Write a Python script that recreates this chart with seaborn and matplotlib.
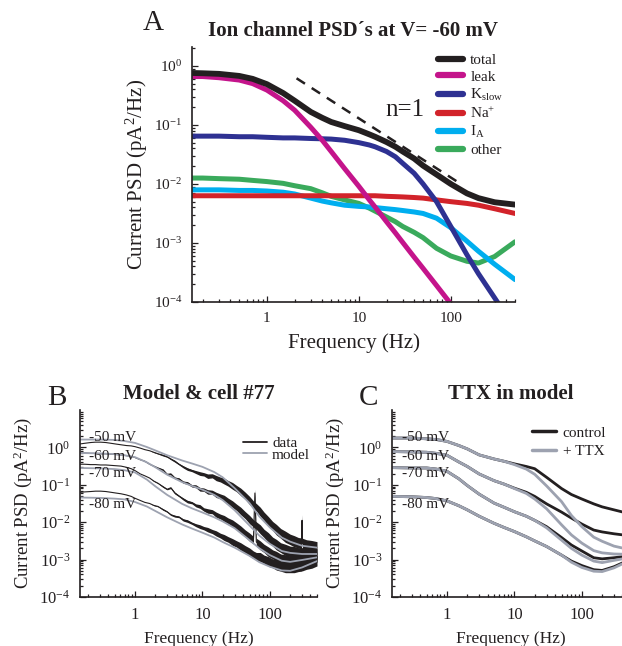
import numpy as np
import matplotlib
matplotlib.use("Agg")
import matplotlib.pyplot as plt
import matplotlib.ticker as mticker
from matplotlib.lines import Line2D
import seaborn as sns

# Panel A: ion channel PSDs at V=-60 mV, values are log10(pA^2/Hz)
freq_a = [0.153, 0.2, 0.3, 0.5, 0.7, 1, 1.5, 2, 3, 4, 5, 7, 10, 13, 15, 20, 25, 30, 40, 50, 70, 100, 150, 200,
          300, 500]
total_a = [-0.12, -0.125, -0.135, -0.17, -0.22, -0.31, -0.46, -0.59, -0.78, -0.88, -0.95, -1.02, -1.09, -1.16,
           -1.20, -1.29, -1.37, -1.45, -1.57, -1.69, -1.84, -2.00, -2.16, -2.24, -2.31, -2.35]
leak_a = [-0.18, -0.18, -0.20, -0.24, -0.30, -0.41, -0.59, -0.75, -1.04, -1.26, -1.45, -1.74, -2.04, -2.27,
          -2.39, -2.64, -2.83, -2.99, -3.24, -3.43, -3.72, -4.03, -4.38, -4.63, -4.98, -5.42]
kslow_a = [-1.19, -1.19, -1.19, -1.20, -1.20, -1.21, -1.22, -1.22, -1.23, -1.235, -1.24, -1.26, -1.30, -1.34,
           -1.37, -1.45, -1.54, -1.65, -1.82, -2.00, -2.30, -2.72, -3.20, -3.52, -3.93, -4.45]
na_a = [-2.20, -2.20, -2.20, -2.20, -2.20, -2.20, -2.20, -2.20, -2.20, -2.20, -2.20, -2.20, -2.20, -2.20,
        -2.20, -2.21, -2.215, -2.22, -2.23, -2.24, -2.27, -2.30, -2.33, -2.36, -2.42, -2.50]
ia_a = [-2.10, -2.10, -2.10, -2.11, -2.11, -2.12, -2.14, -2.17, -2.24, -2.29, -2.32, -2.36, -2.38, -2.39,
        -2.40, -2.42, -2.435, -2.45, -2.475, -2.50, -2.58, -2.74, -2.97, -3.14, -3.36, -3.62]
other_a = [-1.90, -1.90, -1.91, -1.92, -1.94, -1.96, -1.99, -2.03, -2.08, -2.15, -2.21, -2.27, -2.33, -2.41,
           -2.46, -2.56, -2.64, -2.72, -2.82, -2.91, -3.09, -3.22, -3.31, -3.34, -3.23, -2.98]
slope_f = [2.1, 120]
slope_p = [-0.21, -1.97]

# Panels B, C: model curves at -50/-60/-70/-80 mV
freq_m = [0.15, 0.3, 0.5, 0.7, 1, 1.5, 2, 3, 5, 7, 10, 15, 20, 30, 50, 70, 100, 150, 200, 300, 500]
b_model = {
    "-50": [0.21, 0.21, 0.20, 0.17, 0.12, 0.01, -0.08, -0.21, -0.35, -0.43, -0.52, -0.66, -0.80, -1.09, -1.49,
            -1.85, -2.14, -2.41, -2.52, -2.63, -2.68],
    "-60": [-0.15, -0.16, -0.18, -0.21, -0.26, -0.40, -0.53, -0.73, -0.93, -1.03, -1.13, -1.27, -1.41, -1.68,
            -2.09, -2.36, -2.58, -2.77, -2.82, -2.85, -2.85],
    "-70": [-0.55, -0.56, -0.58, -0.61, -0.67, -0.86, -1.04, -1.27, -1.51, -1.63, -1.74, -1.87, -1.98, -2.16,
            -2.48, -2.70, -2.88, -3.03, -3.06, -3.01, -2.94],
    "-80": [-1.34, -1.35, -1.37, -1.39, -1.46, -1.58, -1.70, -1.87, -2.06, -2.17, -2.28, -2.41, -2.53, -2.68,
            -2.90, -3.07, -3.19, -3.29, -3.30, -3.21, -3.04],
}
c_control = {
    "-50": [0.25, 0.25, 0.23, 0.21, 0.16, 0.05, -0.04, -0.20, -0.31, -0.37, -0.44, -0.51, -0.57, -0.80, -1.10,
            -1.26, -1.38, -1.51, -1.59, -1.67, -1.77],
    "-60": [-0.11, -0.12, -0.13, -0.16, -0.21, -0.39, -0.51, -0.71, -0.89, -0.98, -1.09, -1.20, -1.31, -1.51,
            -1.73, -1.89, -2.05, -2.21, -2.26, -2.31, -2.36],
    "-70": [-0.54, -0.55, -0.55, -0.58, -0.64, -0.84, -1.02, -1.25, -1.49, -1.60, -1.72, -1.84, -1.95, -2.12,
            -2.41, -2.61, -2.77, -2.95, -2.98, -2.95, -2.90],
    "-80": [-1.31, -1.32, -1.34, -1.37, -1.43, -1.56, -1.67, -1.84, -2.03, -2.14, -2.25, -2.39, -2.50, -2.65,
            -2.88, -3.04, -3.16, -3.27, -3.29, -3.19, -3.01],
}
c_ttx = {
    "-50": [0.25, 0.25, 0.23, 0.21, 0.16, 0.05, -0.04, -0.20, -0.31, -0.37, -0.46, -0.58, -0.72, -1.03, -1.45,
            -1.82, -2.12, -2.40, -2.51, -2.64, -2.73],
    "-60": [-0.11, -0.12, -0.13, -0.16, -0.21, -0.39, -0.51, -0.71, -0.89, -0.98, -1.10, -1.23, -1.38, -1.64,
            -2.07, -2.34, -2.56, -2.76, -2.82, -2.85, -2.86],
    "-70": [-0.54, -0.55, -0.55, -0.58, -0.64, -0.84, -1.02, -1.25, -1.49, -1.60, -1.72, -1.84, -1.95, -2.15,
            -2.48, -2.70, -2.88, -3.04, -3.08, -3.02, -2.95],
    "-80": [-1.31, -1.32, -1.34, -1.37, -1.43, -1.56, -1.67, -1.84, -2.03, -2.14, -2.25, -2.39, -2.50, -2.65,
            -2.88, -3.07, -3.21, -3.31, -3.32, -3.22, -3.03],
}

# Panel B: recorded data (cell #77), log10 values and noise half-width
freq_d = [0.15, 0.18, 0.22, 0.26, 0.31, 0.37, 0.44, 0.52, 0.62, 0.74, 0.88, 1.0, 1.2, 1.4, 1.65, 1.9, 2.2, 2.6,
          3.0, 3.4, 3.9, 4.5, 5.2, 6.0, 7.0, 8.0, 9.2, 10.5, 12, 14, 16, 18.5, 21, 24, 28, 32, 37, 43, 50, 57,
          60, 63, 72, 82, 95, 110, 125, 145, 170, 200, 230, 265, 295, 300, 305, 350, 420, 500]
b_data = {
    "-50": [0.09, 0.11, 0.13, 0.14, 0.14, 0.13, 0.11, 0.09, 0.07, 0.05, 0.04, 0.02, -0.02, -0.06, -0.09, -0.13,
            -0.17, -0.21, -0.25, -0.31, -0.37, -0.45, -0.52, -0.58, -0.62, -0.66, -0.70, -0.72, -0.77, -0.76,
            -0.82, -0.86, -0.90, -0.96, -1.03, -1.10, -1.19, -1.29, -1.42, -1.53, -1.57, -1.60, -1.72, -1.84,
            -1.98, -2.10, -2.20, -2.30, -2.39, -2.46, -2.51, -2.55, -2.57, -1.95, -2.58, -2.61, -2.64, -2.66],
    "-60": [-0.15, -0.15, -0.16, -0.16, -0.17, -0.17, -0.18, -0.19, -0.20, -0.22, -0.24, -0.27, -0.33, -0.37,
            -0.45, -0.50, -0.55, -0.60, -0.72, -0.71, -0.82, -0.84, -0.93, -0.95, -1.03, -1.04, -1.12, -1.13,
            -1.19, -1.20, -1.27, -1.31, -1.36, -1.43, -1.52, -1.60, -1.70, -1.81, -1.93, -2.03, -2.06, -2.09,
            -2.19, -2.30, -2.41, -2.52, -2.60, -2.68, -2.74, -2.78, -2.80, -2.82, -2.83, -2.83, -2.83, -2.84,
            -2.85, -2.85],
    "-70": [-0.45, -0.45, -0.46, -0.46, -0.47, -0.47, -0.48, -0.49, -0.50, -0.53, -0.57, -0.62, -0.71, -0.76,
            -0.82, -0.90, -0.96, -1.05, -1.12, -1.08, -1.22, -1.30, -1.38, -1.45, -1.48, -1.55, -1.58, -1.66,
            -1.70, -1.72, -1.80, -1.85, -1.90, -1.96, -2.03, -2.10, -2.20, -2.30, -2.40, -2.48, -1.22, -2.53,
            -2.62, -2.70, -2.79, -2.86, -2.92, -2.98, -3.02, -3.04, -3.04, -3.03, -3.02, -3.02, -3.01, -2.99,
            -2.96, -2.93],
    "-80": [-1.20, -1.19, -1.18, -1.17, -1.17, -1.18, -1.20, -1.22, -1.24, -1.27, -1.31, -1.36, -1.42, -1.47,
            -1.50, -1.55, -1.58, -1.66, -1.72, -1.80, -1.84, -1.86, -1.94, -1.97, -2.03, -2.08, -2.12, -2.16,
            -2.20, -2.25, -2.30, -2.36, -2.41, -2.46, -2.53, -2.58, -2.65, -2.72, -2.80, -2.87, -2.89, -2.91,
            -2.93, -2.99, -3.05, -3.10, -3.14, -3.18, -3.20, -3.21, -3.20, -3.18, -3.16, -3.15, -3.15, -3.12,
            -3.08, -3.03],
}
b_noise = [0, 0, 0, 0, 0, 0, 0, 0, 0, 0, 0, 0, 0, 0, 0, 0.01, 0.01, 0.02, 0.015, 0.02, 0.025, 0.02, 0.03, 0.035,
           0.03, 0.04, 0.05, 0.045, 0.06, 0.055, 0.07, 0.065, 0.08, 0.075, 0.09, 0.085, 0.10, 0.095, 0.11, 0.10,
           0.10, 0.10, 0.12, 0.11, 0.13, 0.12, 0.14, 0.13, 0.15, 0.14, 0.15, 0.14, 0.15, 0.15, 0.15, 0.14, 0.15,
           0.14]

levels = ["-50", "-60", "-70", "-80"]
level_y = {"-50": 0.26, "-60": -0.25, "-70": -0.71, "-80": -1.54}

ink = "#231f20"
colors_a = {"total": ink, "leak": "#c4148b", "kslow": "#2e3192", "na": "#d2232a", "ia": "#00aeef",
            "other": "#3aaa5c"}
grey = "#9da2b0"

sns.set_theme(style="ticks")
plt.rcParams.update({
    "font.family": ["Liberation Serif", "DejaVu Serif"],
    "mathtext.fontset": "custom",
    "mathtext.rm": "Liberation Serif",
    "mathtext.it": "Liberation Serif:italic",
    "mathtext.bf": "Liberation Serif:bold",
    "text.color": ink, "axes.labelcolor": ink, "xtick.color": ink, "ytick.color": ink,
    "axes.edgecolor": ink,
})

fig = plt.figure(figsize=(6.22, 6.46), dpi=100)
axA = fig.add_axes([192 / 622, 1 - 302 / 646, 323 / 622, 255 / 646])
axB = fig.add_axes([80 / 622, 1 - 597 / 646, 237 / 622, 187 / 646])
axC = fig.add_axes([392 / 622, 1 - 597 / 646, 237 / 622, 187 / 646])


def log_axes(ax, ytop, tick_fs):
    ax.set_xscale("log")
    ax.set_yscale("log")
    ax.set_xlim(0.153, 500)
    ax.set_ylim(1e-4, ytop)
    ax.xaxis.set_major_locator(mticker.FixedLocator([1, 10, 100]))
    ax.xaxis.set_major_formatter(mticker.FixedFormatter(["1", "10", "100"]))
    ax.xaxis.set_minor_locator(mticker.LogLocator(10, subs=np.arange(2, 10), numticks=20))
    ax.xaxis.set_minor_formatter(mticker.NullFormatter())
    ax.yaxis.set_major_locator(mticker.FixedLocator([1e-4, 1e-3, 1e-2, 1e-1, 1]))
    ax.yaxis.set_major_formatter(mticker.LogFormatterMathtext())
    ax.yaxis.set_minor_locator(mticker.LogLocator(10, subs=np.arange(2, 10), numticks=20))
    ax.yaxis.set_minor_formatter(mticker.NullFormatter())
    ax.tick_params(which="both", direction="in", width=0.9, labelsize=tick_fs)
    ax.tick_params(axis="x", which="major", length=4, pad=7)
    ax.tick_params(axis="y", which="major", length=4, pad=7)
    ax.tick_params(which="minor", length=2)
    sns.despine(ax=ax)
    for s in ("left", "bottom"):
        ax.spines[s].set_linewidth(1.2)


def curve(ax, f, logp, **kw):
    sns.lineplot(x=f, y=10.0 ** np.asarray(logp), ax=ax, estimator=None, sort=False, legend=False, **kw)


# ---- A
log_axes(axA, 10 ** 0.32, 11)
curve(axA, freq_a, other_a, color=colors_a["other"], linewidth=3.6)
curve(axA, freq_a, ia_a, color=colors_a["ia"], linewidth=3.6)
curve(axA, freq_a, na_a, color=colors_a["na"], linewidth=3.6)
curve(axA, freq_a, kslow_a, color=colors_a["kslow"], linewidth=3.6)
curve(axA, freq_a, leak_a, color=colors_a["leak"], linewidth=3.6)
curve(axA, freq_a, total_a, color=colors_a["total"], linewidth=4.2)
curve(axA, slope_f, slope_p, color=ink, linewidth=1.8, linestyle=(0, (4, 3.2)))
axA.text(32, 10 ** -0.75, "n=1", fontsize=18, ha="center", va="center")
handles = [Line2D([], [], color=colors_a[k], lw=4.5) for k in ["total", "leak", "kslow", "na", "ia", "other"]]
labels = ["total", "leak", r"K$_{\mathregular{slow}}$", r"Na$^{\mathregular{+}}$", r"I$_{\mathregular{A}}$", "other"]
axA.legend(handles, labels, loc="upper left", bbox_to_anchor=(0.762, 0.975), frameon=False, fontsize=11,
           handlelength=1.6, handletextpad=0.5, labelspacing=0.2, borderpad=0, borderaxespad=0)
axA.set_title("Ion channel PSD\u00b4s at V= -60 mV", fontsize=15, fontweight="bold", pad=8)
axA.set_xlabel("Frequency (Hz)", fontsize=15, labelpad=6)
axA.set_ylabel("Current PSD (pA$^2$/Hz)", fontsize=15, labelpad=2.5)

# ---- B
log_axes(axB, 10 ** 1.0, 12)
for lv in levels:
    d = np.asarray(b_data[lv])
    nz = np.asarray(b_noise)
    axB.fill_between(freq_d, 10 ** (d - nz), 10 ** (d + nz), color=ink, lw=0)
    curve(axB, freq_d, d, color=ink, linewidth=0.8)
for lv in levels:
    curve(axB, freq_m, b_model[lv], color=grey, linewidth=1.3)
for lv in levels:
    axB.text(0.21, 10 ** level_y[lv], lv + " mV", fontsize=11, ha="left", va="center")
hB = [Line2D([], [], color=ink, lw=1.3), Line2D([], [], color=grey, lw=1.3)]
axB.legend(hB, ["data", "model"], loc="upper left", bbox_to_anchor=(0.688, 0.86), frameon=False, fontsize=11,
           handlelength=1.55, handletextpad=0.35, labelspacing=-0.12, borderpad=0, borderaxespad=0)
axB.set_title("Model & cell #77", fontsize=15, fontweight="bold", pad=8)
axB.set_xlabel("Frequency (Hz)", fontsize=12.5, labelpad=6)
axB.set_ylabel("Current PSD (pA$^2$/Hz)", fontsize=13.5, labelpad=3.5)

# ---- C
log_axes(axC, 10 ** 1.0, 12)
for lv in levels:
    curve(axC, freq_m, c_control[lv], color=ink, linewidth=2.0)
for lv in levels:
    curve(axC, freq_m, c_ttx[lv], color=grey, linewidth=2.0)
for lv in levels:
    axC.text(0.215, 10 ** level_y[lv], lv + " mV", fontsize=11, ha="left", va="center")
hC = [Line2D([], [], color=ink, lw=2.5), Line2D([], [], color=grey, lw=2.5)]
axC.legend(hC, ["control", "+ TTX"], loc="upper left", bbox_to_anchor=(0.591, 0.915), frameon=False, fontsize=11,
           handlelength=1.55, handletextpad=0.45, labelspacing=0.3, borderpad=0, borderaxespad=0)
axC.set_title("TTX in model", fontsize=15, fontweight="bold", pad=8)
axC.set_xlabel("Frequency (Hz)", fontsize=12.5, labelpad=6)
axC.set_ylabel("Current PSD (pA$^2$/Hz)", fontsize=13.5, labelpad=3.5)

fig.text(153 / 622, 1 - 23 / 646, "A", fontsize=21, ha="center", va="center")
fig.text(57 / 622, 1 - 398 / 646, "B", fontsize=21, ha="center", va="center")
fig.text(368 / 622, 1 - 398 / 646, "C", fontsize=21, ha="center", va="center")

fig.savefig("out.png", dpi=100)
